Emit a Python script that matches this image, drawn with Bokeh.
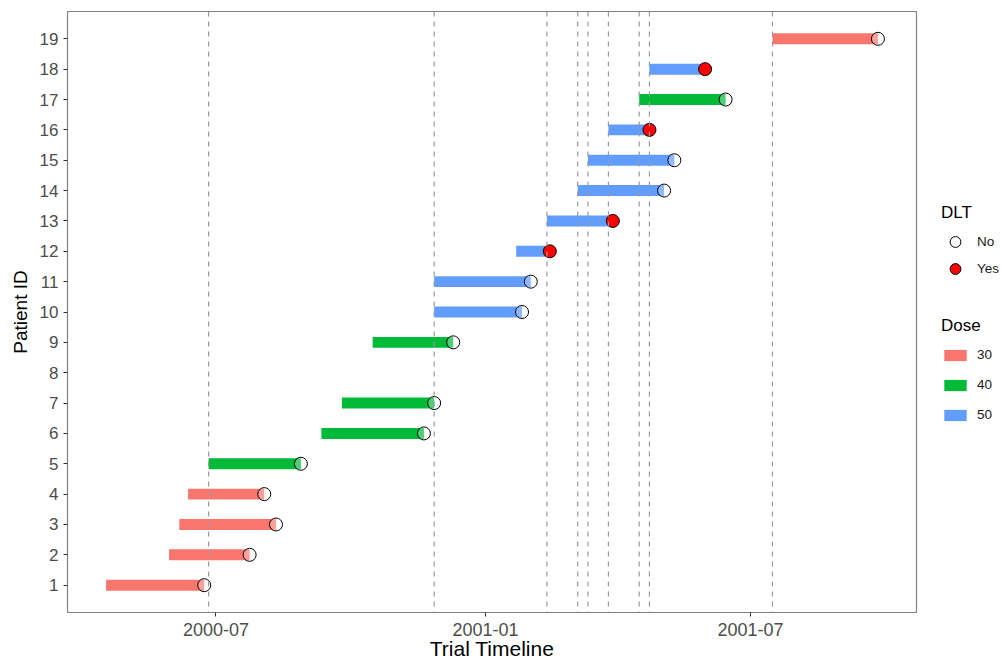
import pandas as pd
from bokeh.plotting import figure
from bokeh.layouts import row
from bokeh.models import (ColumnDataSource, Range1d, FixedTicker, DatetimeTickFormatter,
                          Span, Legend, LegendItem)
from bokeh.embed import file_html
from bokeh.resources import INLINE

# ---- trial data -----------------------------------------------------------
patient_ids = [1, 2, 3, 4, 5, 6, 7, 9, 10, 11, 12, 13, 14, 15, 16, 17, 18, 19]
start_dates = ["2000-04-17", "2000-05-30", "2000-06-06", "2000-06-12", "2000-06-26",
               "2000-09-11", "2000-09-25", "2000-10-16", "2000-11-27", "2000-11-27",
               "2001-01-22", "2001-02-12", "2001-03-05", "2001-03-12", "2001-03-26",
               "2001-04-16", "2001-04-23", "2001-07-16"]
end_dates = ["2000-06-23", "2000-07-24", "2000-08-11", "2000-08-03", "2000-08-28",
             "2000-11-20", "2000-11-27", "2000-12-10", "2001-01-26", "2001-02-01",
             "2001-02-14", "2001-03-29", "2001-05-03", "2001-05-10", "2001-04-23",
             "2001-06-14", "2001-05-31", "2001-09-26"]
dose_levels = [30, 30, 30, 30, 40, 40, 40, 40, 50, 50, 50, 50, 50, 50, 50, 40, 50, 30]
dlt_flags = ["No", "No", "No", "No", "No", "No", "No", "No", "No", "No",
             "Yes", "Yes", "No", "No", "Yes", "No", "Yes", "No"]

# dates at which a new cohort was opened
cohort_dates = ["2000-06-26", "2000-11-27", "2001-02-12", "2001-03-05", "2001-03-12",
                "2001-03-26", "2001-04-16", "2001-04-23", "2001-07-16"]

x_tick_dates = ["2000-07-01", "2001-01-01", "2001-07-01"]

dose_order = [30, 40, 50]
dose_colors = {30: "#F8766D", 40: "#00BA38", 50: "#619CFF"}
dlt_order = ["No", "Yes"]
dlt_fill = {"No": ("white", 0.3), "Yes": ("#FF0000", 1.0)}

FONT = "Liberation Sans"


def to_ms(ts):
    return pd.Timestamp(ts).value / 1e6


df = pd.DataFrame({
    "pid": patient_ids,
    "start": pd.to_datetime(start_dates),
    "end": pd.to_datetime(end_dates),
    "dose": dose_levels,
    "dlt": dlt_flags,
})
dose_sources = {d: ColumnDataSource(df[df["dose"] == d]) for d in dose_order}
dlt_sources = {k: ColumnDataSource(df[df["dlt"] == k]) for k in dlt_order}


def draw_marks(fig):
    """Treatment bars per dose level and end markers per DLT outcome."""
    dose_items, dlt_items = [], []
    for d in dose_order:
        r = fig.hbar(y="pid", left="start", right="end", height=0.36,
                     source=dose_sources[d], fill_color=dose_colors[d], line_color=None)
        dose_items.append(LegendItem(label=str(d), renderers=[r]))
    for k in dlt_order:
        fc, fa = dlt_fill[k]
        r = fig.scatter(x="end", y="pid", size=13, source=dlt_sources[k], marker="circle",
                        fill_color=fc, fill_alpha=fa, line_color="black", line_width=1)
        dlt_items.append(LegendItem(label=k, renderers=[r]))
    return dose_items, dlt_items


# ggplot-like 5% expansion of both continuous scales
x_lo, x_hi = to_ms(df["start"].min()), to_ms(df["end"].max())
x_pad = 0.05 * (x_hi - x_lo)
y_lo, y_hi = min(patient_ids), max(patient_ids)
y_pad = 0.05 * (y_hi - y_lo)

p = figure(width=925, height=664, x_axis_type="datetime",
           output_backend="svg", toolbar_location=None,
           x_range=Range1d(x_lo - x_pad, x_hi + x_pad),
           y_range=Range1d(y_lo - y_pad, y_hi + y_pad),
           min_border_left=67, min_border_right=9,
           min_border_top=11, min_border_bottom=52)

p.background_fill_color = "white"
p.border_fill_color = "white"
p.outline_line_color = "#7f7f7f"
p.outline_line_width = 1.2
p.xgrid.visible = False
p.ygrid.visible = False

draw_marks(p)

# ---- cohort opening dates --------------------------------------------------
for c in cohort_dates:
    p.add_layout(Span(location=to_ms(c), dimension="height", line_color="#9a9a9a",
                      line_width=1.2, line_dash="5 5"))

# ---- axes ----------------------------------------------------------------
for ax in (p.xaxis[0], p.yaxis[0]):
    ax.axis_line_color = None
    ax.major_tick_line_color = "#333333"
    ax.major_tick_line_width = 1
    ax.major_tick_out = 4
    ax.major_tick_in = 0
    ax.minor_tick_line_color = None
    ax.major_label_text_color = "#4d4d4d"
    ax.major_label_text_font = FONT
    ax.axis_label_text_font = FONT
    ax.axis_label_text_font_style = "normal"
    ax.axis_label_text_color = "black"

p.xaxis.ticker = FixedTicker(ticks=[to_ms(t) for t in x_tick_dates])
fmt = "%Y-%m"
p.xaxis.formatter = DatetimeTickFormatter(
    microseconds=fmt, milliseconds=fmt, seconds=fmt, minsec=fmt, minutes=fmt,
    hourmin=fmt, hours=fmt, days=fmt, months=fmt, years=fmt)
p.xaxis.major_label_text_font_size = "18px"
p.xaxis.major_label_standoff = 6
p.xaxis.axis_label = "Trial Timeline"
p.xaxis.axis_label_text_font_size = "21px"
p.xaxis.axis_label_standoff = -2

p.yaxis.ticker = FixedTicker(ticks=list(range(y_lo, y_hi + 1)))
p.yaxis.major_label_text_font_size = "17px"
p.yaxis.major_label_standoff = 5
p.yaxis.axis_label = "Patient ID"
p.yaxis.axis_label_text_font_size = "19px"
p.yaxis.axis_label_standoff = 6

# ---- legend panel ----------------------------------------------------------
# A narrow companion figure hosts the two guides; its own copies of the marks
# sit outside its (unit) ranges, so only the legend keys are visible.
leg_fig = figure(width=76, height=664, output_backend="svg", toolbar_location=None,
                 x_range=Range1d(0, 1), y_range=Range1d(0, 1),
                 x_axis_location=None, y_axis_location=None,
                 min_border=0, min_border_left=0, min_border_right=0,
                 min_border_top=0, min_border_bottom=0)
leg_fig.outline_line_color = None
leg_fig.xgrid.visible = False
leg_fig.ygrid.visible = False
leg_fig.background_fill_color = "white"
leg_fig.border_fill_color = "white"

dose_items, dlt_items = draw_marks(leg_fig)

common = dict(padding=0, margin=0, border_line_color=None, background_fill_alpha=0,
              title_text_font=FONT, title_text_font_style="normal",
              title_text_font_size="17px", title_text_color="black",
              label_text_font=FONT, label_text_font_size="13.5px",
              label_text_color="#1a1a1a", label_standoff=8)

leg_dlt = Legend(items=dlt_items, title="DLT", location=(16, 330),
                 glyph_width=28, glyph_height=27, label_height=14, spacing=0,
                 title_standoff=5, **common)
leg_dose = Legend(items=dose_items, title="Dose", location=(16, 189),
                  glyph_width=28, glyph_height=14, label_height=17, spacing=13,
                  title_standoff=10, **common)
leg_fig.add_layout(leg_dlt)
leg_fig.add_layout(leg_dose)

open("out.html", "w").write(file_html(row(p, leg_fig), INLINE))
